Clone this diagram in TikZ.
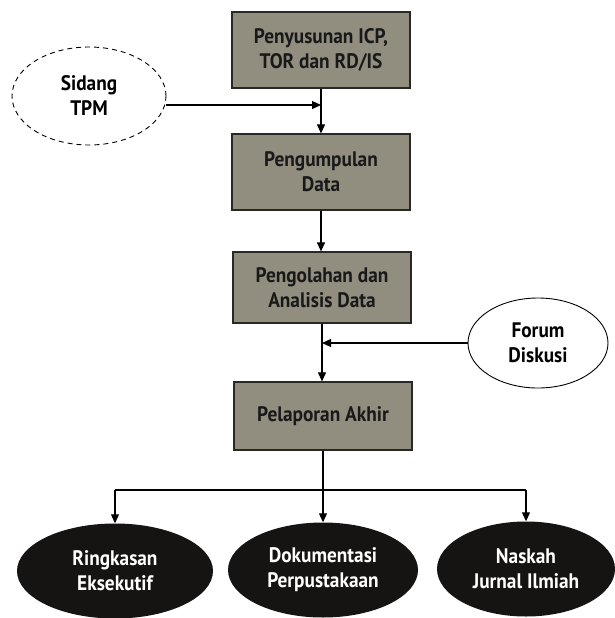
\documentclass[tikz,border=0pt]{standalone}
\usepackage{fontspec}
\setmainfont{PT Sans}[FakeStretch=0.92]
\usetikzlibrary{shapes.geometric,arrows.meta}
\definecolor{boxfill}{RGB}{145,142,128}
\definecolor{boxline}{RGB}{40,40,36}
\definecolor{ovalfill}{RGB}{22,20,18}
\tikzset{
  labelfont/.style={font=\bfseries\fontsize{21}{25}\selectfont},
  stepbox/.style={draw=boxline,line width=1.2pt,fill=boxfill,minimum width=178pt,
    align=center,labelfont,inner sep=2pt,text=black!90},
  inputoval/.style={ellipse,draw,line width=0.9pt,fill=white,align=center,
    labelfont,inner sep=0pt},
  outoval/.style={ellipse,fill=ovalfill,text=white,align=center,
    minimum height=95pt,labelfont,inner sep=0pt},
  flow/.style={draw,line width=1.1pt,-{Triangle[length=9pt,width=8pt]}},
  link/.style={draw,line width=1.1pt}
}
\begin{document}
\begin{tikzpicture}[x=1pt,y=-1pt]
\useasboundingbox (0,0) rectangle (615,618);
% main chain of steps
\node[stepbox,minimum height=76pt] (icp) at (321,50) {Penyusunan ICP,\\TOR dan RD/IS};
\node[stepbox,minimum height=76pt] (data) at (321,172) {Pengumpulan\\Data};
\node[stepbox,minimum height=71pt] (olah) at (322,287.5) {Pengolahan dan\\Analisis Data};
\node[stepbox,minimum height=68pt] (lapor) at (323,416) {Pelaporan Akhir};
% side inputs
\node[inputoval,dashed,dash pattern=on 5pt off 4pt,minimum width=154pt,minimum height=98pt] (tpm) at (89,96) {Sidang\\TPM};
\node[inputoval,minimum width=140pt,minimum height=90pt] (forum) at (538,343) {Forum\\Diskusi};
% outputs
\node[outoval,minimum width=196pt] (ring) at (115,571) {Ringkasan\\Eksekutif};
\node[outoval,minimum width=190pt] (dok) at (323,570) {Dokumentasi\\Perpustakaan};
\node[outoval,minimum width=178pt] (nas) at (526,569) {Naskah\\Jurnal Ilmiah};
% connectors
\coordinate (j1) at (icp.south |- 0,105);
\coordinate (j2) at (olah.south |- forum.west);
\coordinate (hub) at (lapor.south |- 0,490);
\draw[flow] (icp.south) -- (icp.south |- data.north);
\draw[flow] (tpm.east |- j1) -- (j1);
\draw[flow] (data.south) -- (data.south |- olah.north);
\draw[flow] (olah.south) -- (olah.south |- lapor.north);
\draw[flow] (forum.west) -- (j2);
\draw[link] (lapor.south) -- (hub);
\draw[link] (ring.north |- hub) -- (nas.north |- hub);
\draw[flow] (ring.north |- hub) -- (ring.north);
\draw[flow] (hub) -- (hub |- dok.north);
\draw[flow] (nas.north |- hub) -- (nas.north);
\end{tikzpicture}
\end{document}
